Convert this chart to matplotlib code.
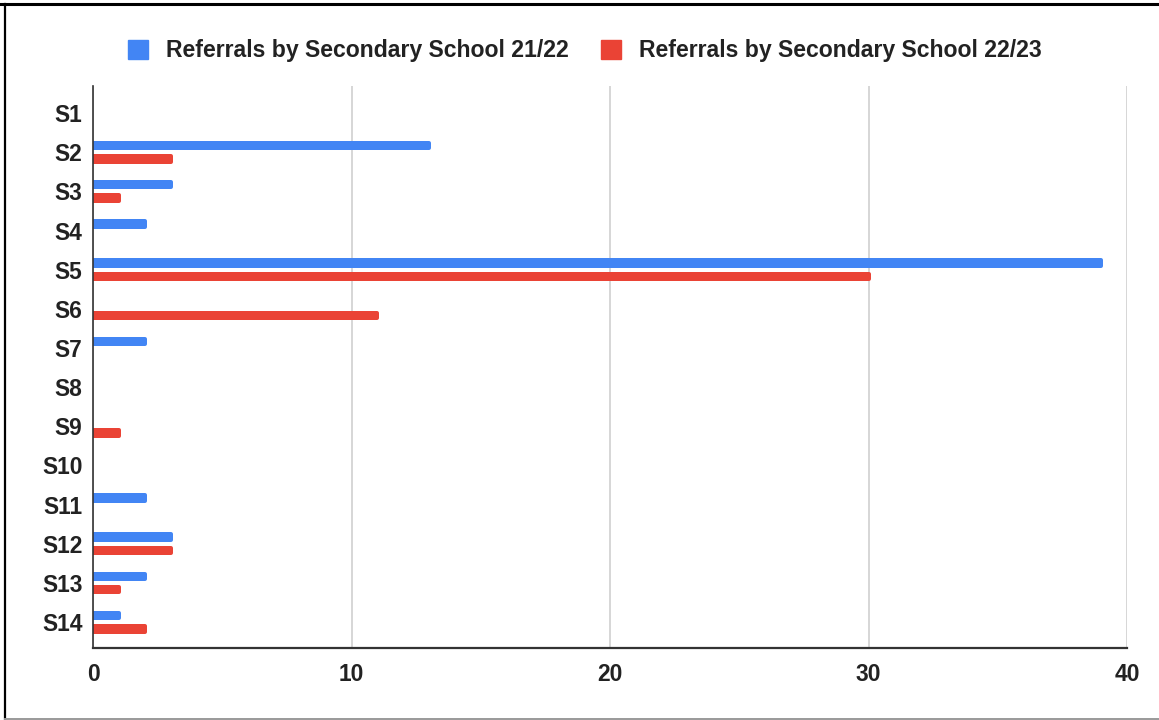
import matplotlib
matplotlib.use("Agg")
import matplotlib.pyplot as plt
from matplotlib.patches import Patch
from matplotlib.lines import Line2D
import numpy as np

schools = ["S1", "S2", "S3", "S4", "S5", "S6", "S7",
           "S8", "S9", "S10", "S11", "S12", "S13", "S14"]
referrals_2122 = [0, 13, 3, 2, 39, 0, 2, 0, 0, 0, 2, 3, 2, 1]
referrals_2223 = [0, 3, 1, 0, 30, 11, 0, 0, 1, 0, 0, 3, 1, 2]
series_labels = ["Referrals by Secondary School 21/22",
                 "Referrals by Secondary School 22/23"]
x_ticks = [0, 10, 20, 30, 40]

BLUE = "#4285F4"
RED = "#EA4335"
TEXT = "#222222"

plt.rcParams["font.family"] = ["Liberation Sans", "DejaVu Sans"]

W, H, DPI = 1159, 720, 100
fig = plt.figure(figsize=(W / DPI, H / DPI), dpi=DPI)
ax = fig.add_axes([93 / W, 1 - 648 / H, (1127 - 93) / W, (648 - 86) / H])

y = np.arange(len(schools))
offset = 0.172
fill_h = 0.14
edge_pt = 4 * 72 / DPI  # rounded outline gives the bars soft ends


def draw_series(values, shift, color):
    lws = [edge_pt if v > 0 else 0 for v in values]
    bars = ax.barh(y + shift, values, height=fill_h, color=color,
                   edgecolor=color, linewidth=lws, zorder=3)
    for b in bars:
        b.set_joinstyle("round")
        b.set_capstyle("round")
    return bars


draw_series(referrals_2122, -offset, BLUE)
draw_series(referrals_2223, offset, RED)

ax.set_xlim(0, 40)
ax.set_ylim(13.66, -0.69)
ax.set_xticks(x_ticks)
ax.set_xticklabels([str(t) for t in x_ticks])
ax.set_yticks(y)
ax.set_yticklabels(schools)

ax.grid(axis="x", color="#cccccc", linewidth=1.1, zorder=0)
ax.set_axisbelow(True)
for side in ("top", "right"):
    ax.spines[side].set_visible(False)
ax.spines["left"].set_color("#333333")
ax.spines["left"].set_linewidth(1.2)
ax.spines["bottom"].set_color("#333333")
ax.spines["bottom"].set_linewidth(1.6)
ax.spines["left"].set_zorder(4)

ax.tick_params(axis="both", length=0, labelsize=16.4, labelcolor=TEXT)
ax.tick_params(axis="y", pad=7.5)
ax.tick_params(axis="x", pad=11)
for lab in ax.get_xticklabels() + ax.get_yticklabels():
    lab.set_fontweight("bold")

handles = [Patch(facecolor=BLUE, edgecolor=BLUE), Patch(facecolor=RED, edgecolor=RED)]
fig.legend(handles, series_labels, loc="center", bbox_to_anchor=(585 / W, 1 - 51 / H),
           ncol=2, frameon=False, handlelength=0.88, handleheight=0.88,
           handletextpad=0.78, columnspacing=1.4,
           prop={"size": 16.6, "weight": "bold"}, labelcolor=TEXT)

# outer frame of the figure
fig.add_artist(Line2D([0, 1], [1 - 4 / H, 1 - 4 / H], color="black", linewidth=2.2,
                      transform=fig.transFigure))
fig.add_artist(Line2D([5 / W, 5 / W], [1 - 4 / H, 1 / H], color="black", linewidth=1.6,
                      transform=fig.transFigure))
fig.add_artist(Line2D([5 / W, 1], [1 / H, 1 / H], color="#999999", linewidth=1.4,
                      transform=fig.transFigure))

fig.savefig("out.png", dpi=DPI, facecolor="white")
